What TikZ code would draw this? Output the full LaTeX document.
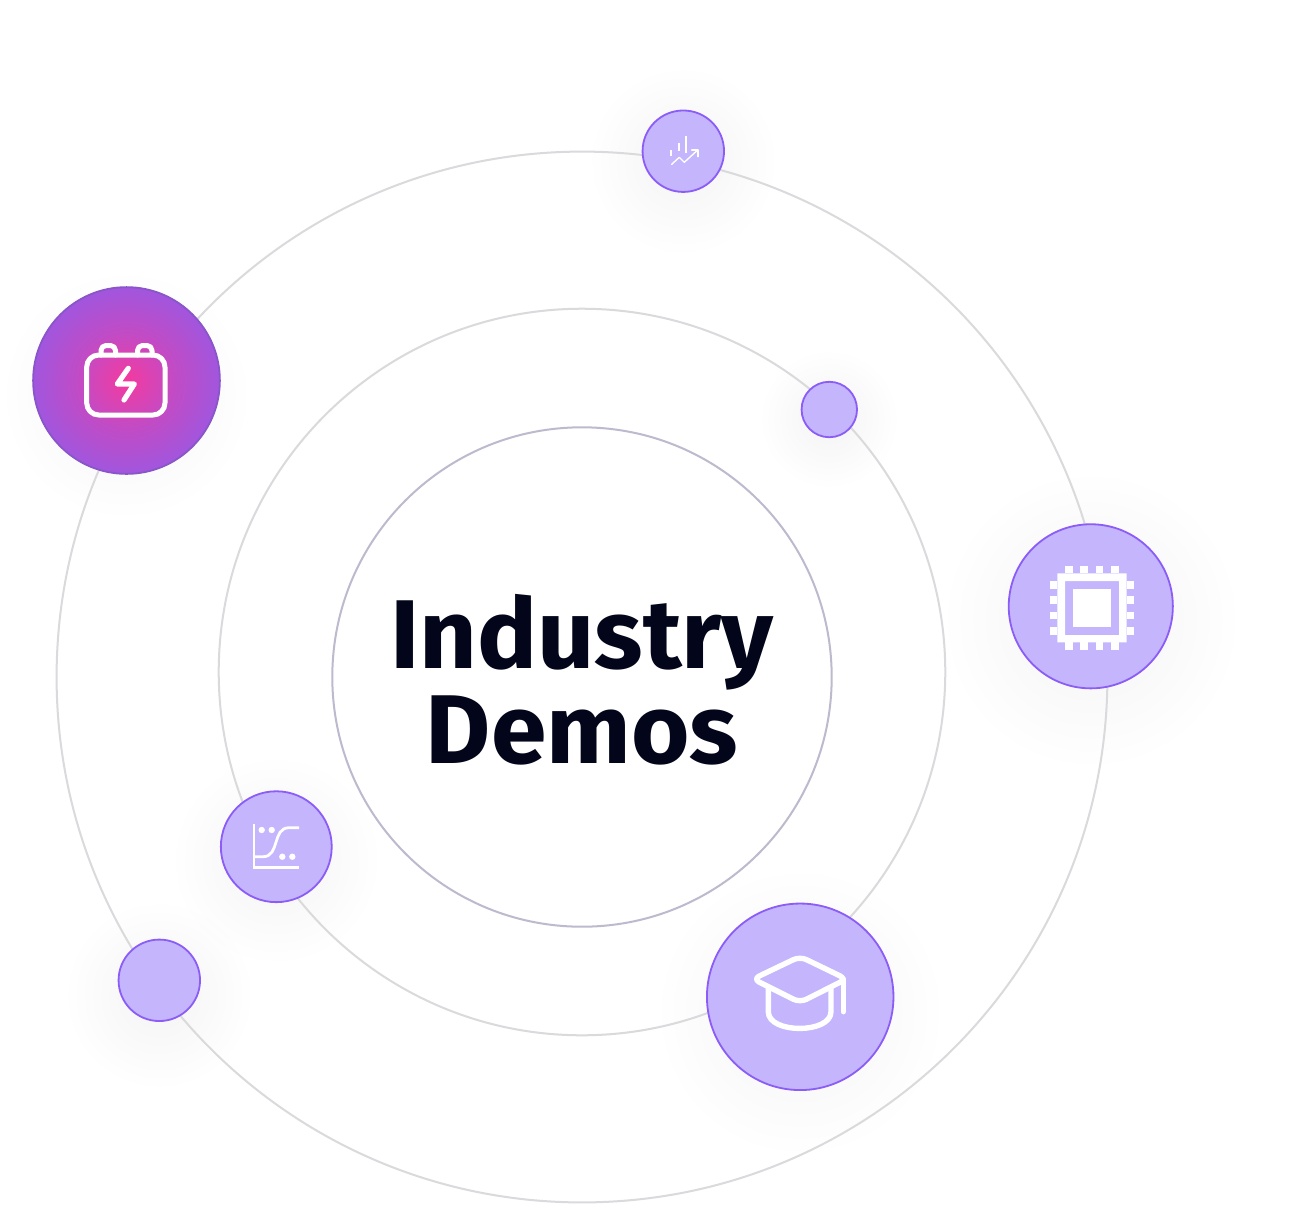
\documentclass[tikz,border=0pt]{standalone}
\usepackage{fontspec}
\setmainfont{Fira Sans}
\usetikzlibrary{fadings}
\definecolor{ringgrey}{HTML}{DADADC}
\definecolor{ringblue}{HTML}{BDBACD}
\definecolor{planetfill}{HTML}{C4B5FD}
\definecolor{planetline}{HTML}{8B5CF6}
\definecolor{batterypink}{HTML}{F53A9E}
\definecolor{batterypurple}{HTML}{A156DE}
\definecolor{batteryline}{HTML}{8A55C8}
\definecolor{titleink}{HTML}{03061A}
\pgfdeclareradialshading{batteryglow}{\pgfpoint{0bp}{0bp}}{color(0bp)=(batterypink); color(5bp)=(batterypink!75!batterypurple); color(12.5bp)=(batterypink!40!batterypurple); color(25bp)=(batterypurple); color(50bp)=(batterypurple)}
\tikzfading[name=softglow,inner color=transparent!35,outer color=transparent!100]
\tikzset{
    orbit/.style={circle,draw=ringgrey,line width=0.02cm,inner sep=0,outer sep=0,minimum size=#1*0.02cm},
    planet/.style={circle,draw=planetline,fill=planetfill,line width=0.018cm,inner sep=0,outer sep=0,minimum size=#1*0.02cm},
    glow/.style={fill=black,fill opacity=0.07,path fading=softglow},
    icon/.style={draw=white,line cap=round,line join=round,line width=#1*0.01cm},
    title/.style={align=center,text=titleink,xscale=1.025,transform shape,font=\fontsize{27.8}{27}\selectfont\bfseries}
}
\begin{document}
\begin{tikzpicture}[x=0.01cm,y=-0.01cm]
    \useasboundingbox (0,0) rectangle (1290,1214);
    \fill[white] (0,0) rectangle (1290,1214);
    \foreach \gx/\gy/\gr in {683/161/95,829/419/70,1091/620/150,126/395/125,276/860/105,159/995/95,800/1012/145}
        \fill[glow] (\gx,\gy) circle (\gr);
    \node[orbit=525] (outer) at (582,677) {};
    \node[orbit=363] (middle) at (582,672) {};
    \node[orbit=249.5,draw=ringblue] (inner) at (582,677) {};
    \node[title] (heading) at (582,680) {Industry\\Demos};
    \node[planet=40.7] (trend) at (683.3,151.2) {};
    \node[planet=27.7] (dot) at (829.3,409.5) {};
    \node[planet=82] (chip) at (1090.8,606.3) {};
    \node[planet=93.3,draw=batteryline,shading=batteryglow] (battery) at (126.5,380.5) {};
    \node[planet=55.4] (curve) at (276.3,846.7) {};
    \node[planet=40.7] (blank) at (159.3,980.3) {};
    \node[planet=93.2] (cap) at (800.2,996.8) {};
    % battery
    \draw[icon=5,rounded corners=0.12cm] (86.7,355) rectangle (165,415);
    \draw[icon=5,rounded corners=0.05cm] (101,355)--(101,345.5)--(115.5,345.5)--(115.5,355);
    \draw[icon=5,rounded corners=0.05cm] (137.5,355)--(137.5,345.5)--(152,345.5)--(152,355);
    \draw[icon=5.2] (128.3,368.3)--(117.3,384)--(134.3,384)--(124,400);
    % trend
    \foreach \bx/\bt/\bb in {671.3/150/156,679/142.7/150.7,686/136/152.7}
        \draw[icon=2.2,line cap=butt] (\bx,\bt)--(\bx,\bb);
    \draw[icon=1.4] (671.7,164.3)--(679.3,157.3)--(684.3,162.3)--(697.7,150);
    \draw[icon=1.4] (691.7,150)--(698,150)--(698,156.7);
    % chip
    \fill[white,even odd rule] (1057.3,573.3) rectangle (1126.7,642.3) (1065,581) rectangle (1119,635);
    \fill[white] (1072.7,589) rectangle (1111,627.3);
    \foreach \pin in {0,...,3} {
        \fill[white] (1065+\pin*15.33,565.7) rectangle ++(7.7,7.7);
        \fill[white] (1065+\pin*15.33,642.3) rectangle ++(7.7,7.7);
        \fill[white] (1049.6,581+\pin*15.33) rectangle ++(7.7,7.7);
        \fill[white] (1126.7,581+\pin*15.33) rectangle ++(7.7,7.7);
    }
    % curve
    \draw[icon=2.8,line cap=butt,line join=miter] (254,824.3)--(254,867.7)--(299,867.7);
    \draw[icon=2.8,line cap=butt] (255,856.7)--(263,856.7) .. controls (280,856.7) and (272,827.7) .. (289,827.7)--(299,827.7);
    \foreach \dx/\dy in {261.7/830,271.7/830,282.3/856.7,292.3/856.7}
        \fill[white] (\dx,\dy) circle (3.2);
    % cap
    \draw[icon=5.4,rounded corners=0.07cm] (753,979)--(800,956.5)--(846.5,979)--(800,1002.5)--cycle;
    \draw[icon=5.4] (768.3,988.3)--(768.3,1011.7) .. controls (768.3,1034) and (831,1034) .. (831,1011.7)--(831,988.3);
    \draw[icon=5.4] (843.3,979)--(843.3,1011.7);
\end{tikzpicture}
\end{document}
